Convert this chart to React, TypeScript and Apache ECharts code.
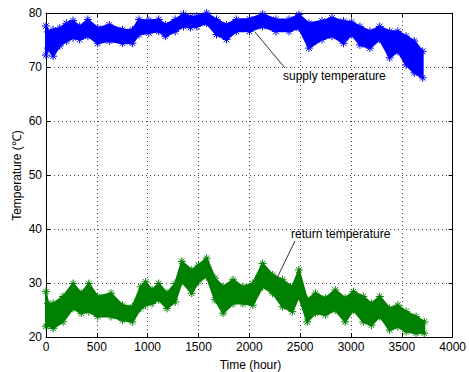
import React, { useEffect, useRef } from "react";
import * as echarts from "echarts";

// Supply temperature band (upper / lower envelope)
const supplyHours = [0, 20, 70, 136, 200, 266, 331, 412, 509, 623, 752, 850, 915, 1012, 1109, 1174, 1271, 1353, 1420, 1483, 1580, 1677, 1775, 1872, 2002, 2131, 2261, 2391, 2488, 2586, 2715, 2813, 2927, 3007, 3088, 3186, 3283, 3380, 3461, 3542, 3623, 3705];
const supplyHigh = [77.6, 76.5, 76.9, 77.2, 78.1, 78.6, 77.5, 78.8, 77.2, 77.8, 76.9, 76.9, 78.8, 78.6, 78.8, 77.8, 78.8, 79.8, 79.3, 79.4, 80.0, 78.8, 77.8, 78.8, 78.9, 79.8, 78.8, 78.8, 79.7, 78.1, 78.5, 79.1, 78.5, 78.3, 77.5, 76.6, 77.5, 76.6, 76.6, 75.7, 74.8, 72.9];
const supplyLow = [72.2, 73.5, 72.0, 73.9, 74.8, 75.4, 75.1, 75.7, 74.4, 74.8, 74.4, 74.4, 76.0, 76.3, 76.6, 75.7, 76.6, 77.5, 77.3, 77.5, 78.1, 76.0, 75.1, 76.6, 76.6, 77.5, 76.6, 76.6, 77.2, 73.5, 75.1, 75.7, 74.4, 76.0, 74.1, 73.5, 75.1, 71.7, 72.9, 70.4, 68.9, 68.0];

// Return temperature band
const returnHours = [0, 20, 71, 168, 266, 347, 421, 509, 640, 752, 850, 932, 980, 1044, 1109, 1190, 1271, 1336, 1434, 1499, 1580, 1662, 1742, 1840, 1937, 2034, 2131, 2229, 2326, 2423, 2488, 2569, 2650, 2748, 2845, 2943, 3024, 3121, 3202, 3283, 3380, 3461, 3542, 3640, 3721];
const returnHigh = [28.4, 26.2, 26.2, 27.5, 29.9, 28.1, 29.9, 27.5, 28.1, 25.9, 25.6, 29.3, 30.2, 28.7, 29.9, 28.1, 29.9, 34.0, 32.4, 33.3, 34.6, 30.9, 29.3, 30.6, 29.3, 29.9, 33.6, 31.5, 30.6, 29.3, 32.4, 26.9, 28.1, 27.2, 28.7, 27.2, 28.4, 27.5, 26.2, 27.5, 25.3, 25.9, 24.7, 23.8, 22.8];
const returnLow = [22.0, 22.2, 21.6, 22.8, 25.3, 24.4, 24.7, 23.8, 23.8, 23.1, 22.8, 25.3, 25.9, 26.2, 26.9, 25.3, 26.5, 30.2, 28.1, 30.2, 31.2, 26.9, 24.4, 26.2, 26.2, 25.9, 29.3, 28.1, 25.6, 24.7, 27.5, 22.8, 24.4, 24.1, 25.0, 22.8, 25.0, 22.8, 22.2, 23.8, 21.3, 21.9, 21.0, 20.7, 20.7];

const xTicks = { min: 0, max: 4000, interval: 500 };
const yTicks = { min: 20, max: 80, interval: 10 };

const SUPPLY = "#0000ff";
const RETURN = "#008000";
const FONT = "Arial, 'Liberation Sans', Helvetica, sans-serif";
const STAR = "path://M5,0L5,10M0,5L10,5M1.5,1.5L8.5,8.5M8.5,1.5L1.5,8.5";

function bandSeries(hours: number[], hi: number[], lo: number[], color: string) {
  return {
    type: "custom",
    data: [[hours[0], (hi[0] + lo[0]) / 2]],
    z: 2,
    renderItem: (_p: any, api: any) => {
      const pts: number[][] = [];
      for (let i = 0; i < hours.length; i++) pts.push(api.coord([hours[i], hi[i]]));
      for (let i = hours.length - 1; i >= 0; i--) pts.push(api.coord([hours[i], lo[i]]));
      return { type: "polygon", shape: { points: pts }, style: { fill: color, stroke: color, lineWidth: 2 } };
    },
  };
}

function edgeSeries(hours: number[], vals: number[], color: string) {
  return {
    type: "scatter",
    data: hours.map((h, i) => [h, vals[i]]),
    symbol: STAR,
    symbolSize: 8,
    z: 3,
    itemStyle: { color, borderColor: color, borderWidth: 1, opacity: 1 },
  };
}

export default function App() {
  const ref = useRef<HTMLDivElement>(null);
  useEffect(() => {
    if (!ref.current) return;
    const chart = echarts.init(ref.current, null, { renderer: "svg" });
    const gridLine = { show: true, lineStyle: { color: "#444", type: [1, 3], width: 1 } };
    const axisLine = { show: true, onZero: false, lineStyle: { color: "#000", width: 1 } };
    const tick = { show: true, inside: true, length: 4, lineStyle: { color: "#000" } };
    const label = { color: "#000", fontSize: 12, fontFamily: FONT, margin: 4, formatter: (v: number) => String(v) };
    chart.setOption({
      animation: false,
      backgroundColor: "#fff",
      grid: { left: 46, top: 13, width: 412, height: 324, containLabel: false },
      xAxis: [
        { type: "value", position: "bottom", ...xTicks, axisLine, axisTick: tick, axisLabel: label, splitLine: gridLine },
        { type: "value", position: "top", ...xTicks, axisLine, axisTick: tick, axisLabel: { show: false }, splitLine: { show: false } },
      ],
      yAxis: [
        { type: "value", position: "left", ...yTicks, axisLine, axisTick: tick, axisLabel: label, splitLine: gridLine },
        { type: "value", position: "right", ...yTicks, axisLine, axisTick: tick, axisLabel: { show: false }, splitLine: { show: false } },
      ],
      series: [
        bandSeries(supplyHours, supplyHigh, supplyLow, SUPPLY),
        edgeSeries(supplyHours, supplyHigh, SUPPLY),
        edgeSeries(supplyHours, supplyLow, SUPPLY),
        bandSeries(returnHours, returnHigh, returnLow, RETURN),
        edgeSeries(returnHours, returnHigh, RETURN),
        edgeSeries(returnHours, returnLow, RETURN),
      ],
      graphic: [
        { type: "text", x: 250.5, y: 365, style: { text: "Time (hour)", fontSize: 12, fontFamily: FONT, fill: "#000", align: "center", verticalAlign: "middle" } },
        { type: "text", x: 16.5, y: 175.5, rotation: Math.PI / 2, style: { text: "Temperature (℃)", fontSize: 12, fontFamily: FONT, fill: "#000", align: "center", verticalAlign: "middle" } },
        { type: "line", shape: { x1: 255, y1: 32, x2: 285, y2: 68 }, style: { stroke: "#333", lineWidth: 1 }, z: 10 },
        { type: "text", x: 283, y: 76, style: { text: "supply temperature", fontSize: 12, fontFamily: FONT, fill: "#000", align: "left", verticalAlign: "middle" }, z: 10 },
        { type: "line", shape: { x1: 295, y1: 241, x2: 277, y2: 278 }, style: { stroke: "#333", lineWidth: 1 }, z: 10 },
        { type: "text", x: 291, y: 234, style: { text: "return temperature", fontSize: 12, fontFamily: FONT, fill: "#000", align: "left", verticalAlign: "middle" }, z: 10 },
      ],
    });
    return () => chart.dispose();
  }, []);
  return <div ref={ref} style={{ width: 469, height: 372, position: "absolute", left: 0, top: 0 }} />;
}
